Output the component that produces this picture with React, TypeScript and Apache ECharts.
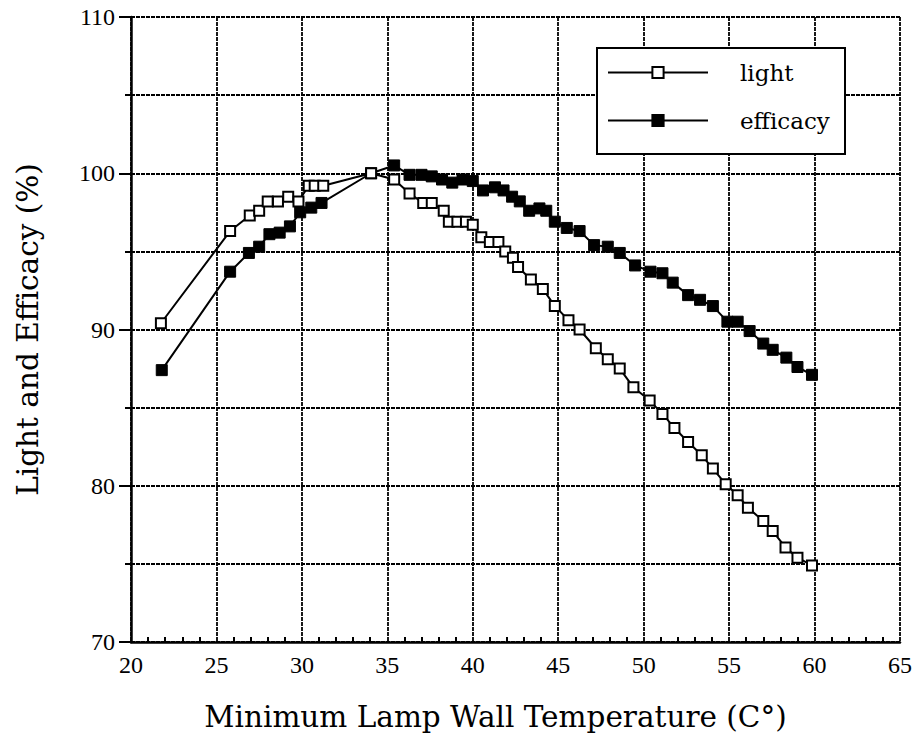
import React, { useEffect, useRef } from "react";
import * as echarts from "echarts";

const lightTemps = [21.75, 25.8, 26.95, 27.5, 28.0, 28.6, 29.2, 29.8, 30.4, 30.75, 31.25, 34.05, 35.4, 36.3, 37.1, 37.6, 38.3, 38.6, 39.1, 39.6, 40.0, 40.5, 41.0, 41.5, 41.9, 42.35, 42.65, 43.4, 44.1, 44.8, 45.6, 46.25, 47.2, 47.9, 48.6, 49.4, 50.35, 51.1, 51.8, 52.6, 53.4, 54.05, 54.8, 55.5, 56.1, 57.0, 57.55, 58.3, 59.0, 59.85];
const lightValues = [90.4, 96.3, 97.3, 97.6, 98.2, 98.2, 98.5, 98.2, 99.2, 99.2, 99.2, 100.0, 99.6, 98.7, 98.1, 98.1, 97.6, 96.9, 96.9, 96.9, 96.7, 95.9, 95.6, 95.6, 95.0, 94.6, 94.0, 93.2, 92.6, 91.5, 90.6, 90.0, 88.8, 88.1, 87.5, 86.3, 85.45, 84.6, 83.7, 82.8, 81.95, 81.1, 80.1, 79.4, 78.6, 77.75, 77.1, 76.05, 75.4, 74.9];

const efficacyTemps = [21.8, 25.8, 26.9, 27.5, 28.1, 28.7, 29.3, 29.9, 30.55, 31.15, 34.05, 35.4, 36.3, 37.0, 37.6, 38.2, 38.8, 39.4, 40.0, 40.6, 41.3, 41.8, 42.3, 42.75, 43.3, 43.9, 44.3, 44.8, 45.5, 46.25, 47.1, 47.9, 48.6, 49.5, 50.4, 51.1, 51.7, 52.6, 53.3, 54.05, 54.9, 55.5, 56.2, 57.0, 57.55, 58.35, 59.0, 59.85];
const efficacyValues = [87.4, 93.7, 94.9, 95.3, 96.1, 96.2, 96.6, 97.5, 97.8, 98.1, 100.0, 100.5, 99.9, 99.9, 99.8, 99.6, 99.4, 99.6, 99.5, 98.9, 99.1, 98.9, 98.5, 98.2, 97.6, 97.75, 97.6, 96.9, 96.5, 96.3, 95.4, 95.3, 94.9, 94.1, 93.7, 93.6, 93.0, 92.2, 91.9, 91.5, 90.5, 90.5, 89.9, 89.1, 88.7, 88.2, 87.6, 87.1];

const seriesNames = ["light", "efficacy"];
const xTitle = "Minimum Lamp Wall Temperature (C°)";
const yTitle = "Light and Efficacy (%)";

const zip = (xs: number[], ys: number[]) => xs.map((x, i) => [x, ys[i]]);

const gridLine = { color: "#000", width: 1.8, type: [4, 1] as any };
const serif = "DejaVu Serif";
const tickFont = "Liberation Serif";

export default function App() {
  const ref = useRef<HTMLDivElement>(null);
  useEffect(() => {
    if (!ref.current) return;
    const chart = echarts.init(ref.current, null, { renderer: "svg" });
    chart.setOption({
      animation: false,
      backgroundColor: "#fff",
      grid: { left: 131, right: 14, top: 17, bottom: 112 },
      graphic: [
        {
          type: "rect",
          z: 3,
          shape: { x: 597, y: 48, width: 248, height: 106 },
          style: { fill: "#fff", stroke: "#000", lineWidth: 2 },
        },
      ],
      legend: {
        data: seriesNames,
        orient: "vertical",
        left: 607,
        top: 61,
        padding: 0,
        itemWidth: 100,
        itemHeight: 14,
        itemGap: 25,
        z: 5,
        textStyle: { fontFamily: serif, fontSize: 23, color: "#000", padding: [0, 0, 0, 27] },
      },
      xAxis: {
        type: "value",
        min: 20,
        max: 65,
        interval: 5,
        axisLine: { lineStyle: { color: "#000", width: 2.5 } },
        axisTick: { show: false, inside: true },
        minorTick: { show: true, splitNumber: 5, length: 5, lineStyle: { color: "#000", width: 2 } },
        axisLabel: { color: "#000", fontFamily: tickFont, fontSize: 24, margin: 11 },
        splitLine: { show: true, lineStyle: gridLine },
        name: xTitle,
        nameLocation: "middle",
        nameGap: 60,
        nameTextStyle: { fontFamily: serif, fontSize: 29.5, color: "#000", padding: [0, 40, 0, 0] },
      },
      yAxis: {
        type: "value",
        min: 70,
        max: 110,
        interval: 10,
        axisLine: { show: true, lineStyle: { color: "#000", width: 2.5 } },
        axisTick: { show: true, length: 12, lineStyle: { color: "#000", width: 2 } },
        minorTick: { show: true, splitNumber: 2, length: 6, lineStyle: { color: "#000", width: 2 } },
        minorSplitLine: { show: true, lineStyle: gridLine },
        axisLabel: { color: "#000", fontFamily: tickFont, fontSize: 24, margin: 16 },
        splitLine: { show: true, lineStyle: gridLine },
        name: yTitle,
        nameLocation: "middle",
        nameGap: 88,
        nameTextStyle: { fontFamily: serif, fontSize: 29.5, color: "#000" },
      },
      series: [
        {
          name: seriesNames[0],
          type: "line",
          data: zip(lightTemps, lightValues),
          symbol: "rect",
          symbolSize: 10,
          z: 3,
          lineStyle: { color: "#000", width: 2 },
          itemStyle: { color: "#fff", borderColor: "#000", borderWidth: 2 },
        },
        {
          name: seriesNames[1],
          type: "line",
          data: zip(efficacyTemps, efficacyValues),
          symbol: "rect",
          symbolSize: 11,
          z: 2,
          lineStyle: { color: "#000", width: 2 },
          itemStyle: { color: "#000", borderColor: "#000", borderWidth: 1 },
        },
      ],
    });
    return () => chart.dispose();
  }, []);
  return (
    <div
      ref={ref}
      style={{ position: "fixed", left: 0, top: 0, width: 915, height: 754 }}
    />
  );
}
